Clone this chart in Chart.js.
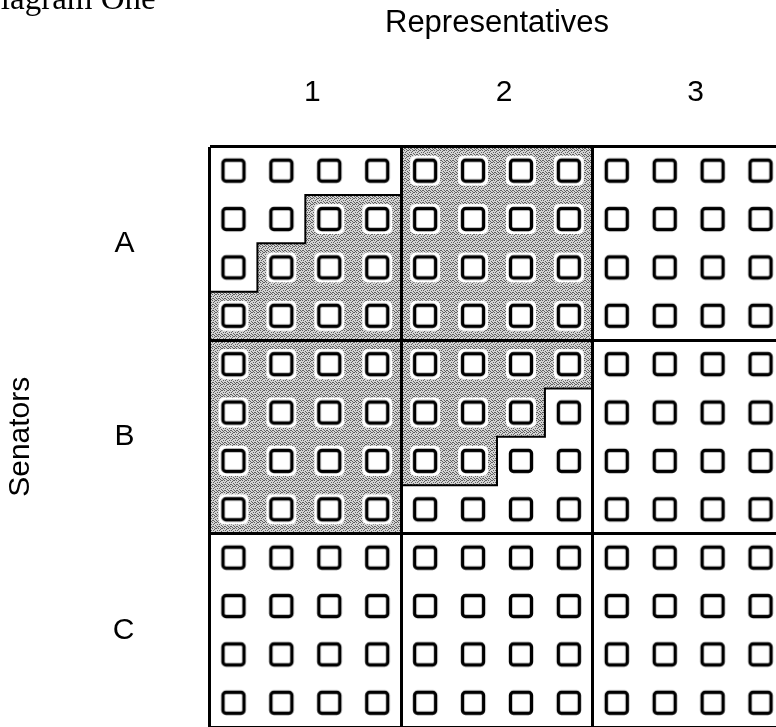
<!DOCTYPE html>
<html>
<head>
<meta charset="utf-8">
<script src="https://cdn.jsdelivr.net/npm/chart.js@4.4.0/dist/chart.umd.min.js"></script>
<style>
html, body { margin: 0; padding: 0; background: #fff; overflow: hidden; }
canvas { display: block; }
</style>
</head>
<body>
<canvas id="diagram" width="800" height="740"></canvas>
<script>
// districts on each axis
var repLabels = ['1', '2', '3'];
var senLabels = ['A', 'B', 'C'];
var votersPerSide = 4; // each block holds 4 x 4 voters

// shaded voters, one entry per row of voters (top to bottom): columns from .. to
var shadeFrom = [4, 2, 1, 0, 0, 0, 0, 0, 0, 0, 0, 0];
var shadeTo   = [8, 8, 8, 8, 8, 7, 6, 4, 0, 0, 0, 0];

var cols = repLabels.length * votersPerSide;
var rows = senLabels.length * votersPerSide;

// one point per voter, at the middle of its cell
var voters = [];
for (var r = 0; r < rows; r++) {
    for (var c = 0; c < cols; c++) {
        voters.push({x: c + 0.5, y: r + 0.5});
    }
}

// outline of the shaded area: down the right side, back up the left side
var shadeOutline = [];
for (var r = 0; r < rows; r++) {
    if (shadeTo[r] > shadeFrom[r]) {
        shadeOutline.push({x: shadeTo[r], y: r});
        shadeOutline.push({x: shadeTo[r], y: r + 1});
    }
}
for (var r = rows - 1; r >= 0; r--) {
    if (shadeTo[r] > shadeFrom[r]) {
        shadeOutline.push({x: shadeFrom[r], y: r + 1});
        shadeOutline.push({x: shadeFrom[r], y: r});
    }
}
shadeOutline.push(shadeOutline[0]);

function roundRect(g, x, y, w, h, rad) {
    g.beginPath();
    g.moveTo(x + rad, y);
    g.arcTo(x + w, y, x + w, y + h, rad);
    g.arcTo(x + w, y + h, x, y + h, rad);
    g.arcTo(x, y + h, x, y, rad);
    g.arcTo(x, y, x + w, y, rad);
    g.closePath();
}

// small voter box with a white halo round it
function voterIcon() {
    var c = document.createElement('canvas');
    c.width = 34; c.height = 34;
    var g = c.getContext('2d');
    g.fillStyle = '#fff';
    roundRect(g, 2, 2, 30, 30, 5);
    g.fill();
    g.lineWidth = 3.4;
    g.strokeStyle = '#000';
    roundRect(g, 6.5, 6.5, 21, 21, 3);
    g.fill();
    g.stroke();
    return c;
}

// stippled grey like the printed screen
function stipple() {
    var c = document.createElement('canvas');
    c.width = 6; c.height = 6;
    var g = c.getContext('2d');
    g.fillStyle = '#d4d4d4';
    g.fillRect(0, 0, 6, 6);
    g.fillStyle = '#5f5f5f';
    [[0, 0], [2, 0], [4, 1], [1, 2], [3, 2], [5, 3], [0, 4], [2, 4], [4, 5], [1, 5], [3, 4], [5, 0]].forEach(function(p) {
        g.fillRect(p[0], p[1], 1, 1);
    });
    return document.getElementById('diagram').getContext('2d').createPattern(c, 'repeat');
}

// grid lines only between the districts
function districtLine(ctx) {
    return ctx.tick && ctx.tick.value % votersPerSide === 0 ? '#000' : 'rgba(0,0,0,0)';
}

var captionPlugin = {
    id: 'caption',
    afterDraw: function(chart) {
        var ctx = chart.ctx;
        ctx.save();
        ctx.fillStyle = '#000';
        ctx.font = '33px "Liberation Serif"';
        ctx.textBaseline = 'alphabetic';
        ctx.fillText('Diagram One', -23, 9);
        ctx.restore();
    }
};

new Chart(document.getElementById('diagram'), {
    type: 'scatter',
    data: {
        datasets: [{
            data: voters,
            pointStyle: voterIcon(),
            pointRadius: 12,
            order: 0
        }, {
            data: shadeOutline,
            showLine: true,
            pointRadius: 0,
            borderColor: '#000',
            borderWidth: 2,
            backgroundColor: stipple(),
            fill: 'shape',
            order: 1
        }]
    },
    options: {
        responsive: false,
        animation: false,
        events: [],
        layout: {padding: {left: 0, top: 0, right: 15.5, bottom: 12.5}},
        plugins: {legend: {display: false}, tooltip: {enabled: false}},
        scales: {
            x: {
                type: 'linear',
                position: 'top',
                min: 0,
                max: cols,
                afterFit: function(scale) {
                    scale.height = 146.5;
                    scale.paddingLeft = 0;
                    scale.paddingRight = 0;
                },
                border: {display: false},
                grid: {color: districtLine, lineWidth: 3, drawTicks: false, z: 1},
                title: {
                    display: true,
                    text: 'Representatives',
                    color: '#000',
                    font: {family: 'Liberation Sans', size: 31},
                    padding: {top: 5, bottom: 0}
                },
                ticks: {
                    stepSize: 2,
                    autoSkip: false,
                    maxRotation: 0,
                    padding: 36,
                    labelOffset: 7,
                    color: '#000',
                    font: {family: 'Liberation Sans', size: 30},
                    callback: function(v) {
                        return v % votersPerSide === 2 ? repLabels[(v - 2) / votersPerSide] : '';
                    }
                }
            },
            y: {
                type: 'linear',
                position: 'left',
                reverse: true,
                min: 0,
                max: rows,
                afterFit: function(scale) {
                    scale.width = 209.5;
                    scale.paddingTop = 0;
                    scale.paddingBottom = 0;
                },
                border: {display: false},
                grid: {color: districtLine, lineWidth: 3, drawTicks: false, z: 1},
                title: {
                    display: true,
                    text: 'Senators',
                    color: '#000',
                    font: {family: 'Liberation Sans', size: 30},
                    padding: {top: 3, bottom: 0}
                },
                ticks: {
                    stepSize: 2,
                    autoSkip: false,
                    padding: 75,
                    color: '#000',
                    font: {family: 'Liberation Sans', size: 30},
                    callback: function(v) {
                        return v % votersPerSide === 2 ? senLabels[(v - 2) / votersPerSide] : '';
                    }
                }
            }
        }
    },
    plugins: [captionPlugin]
});
</script>
</body>
</html>
